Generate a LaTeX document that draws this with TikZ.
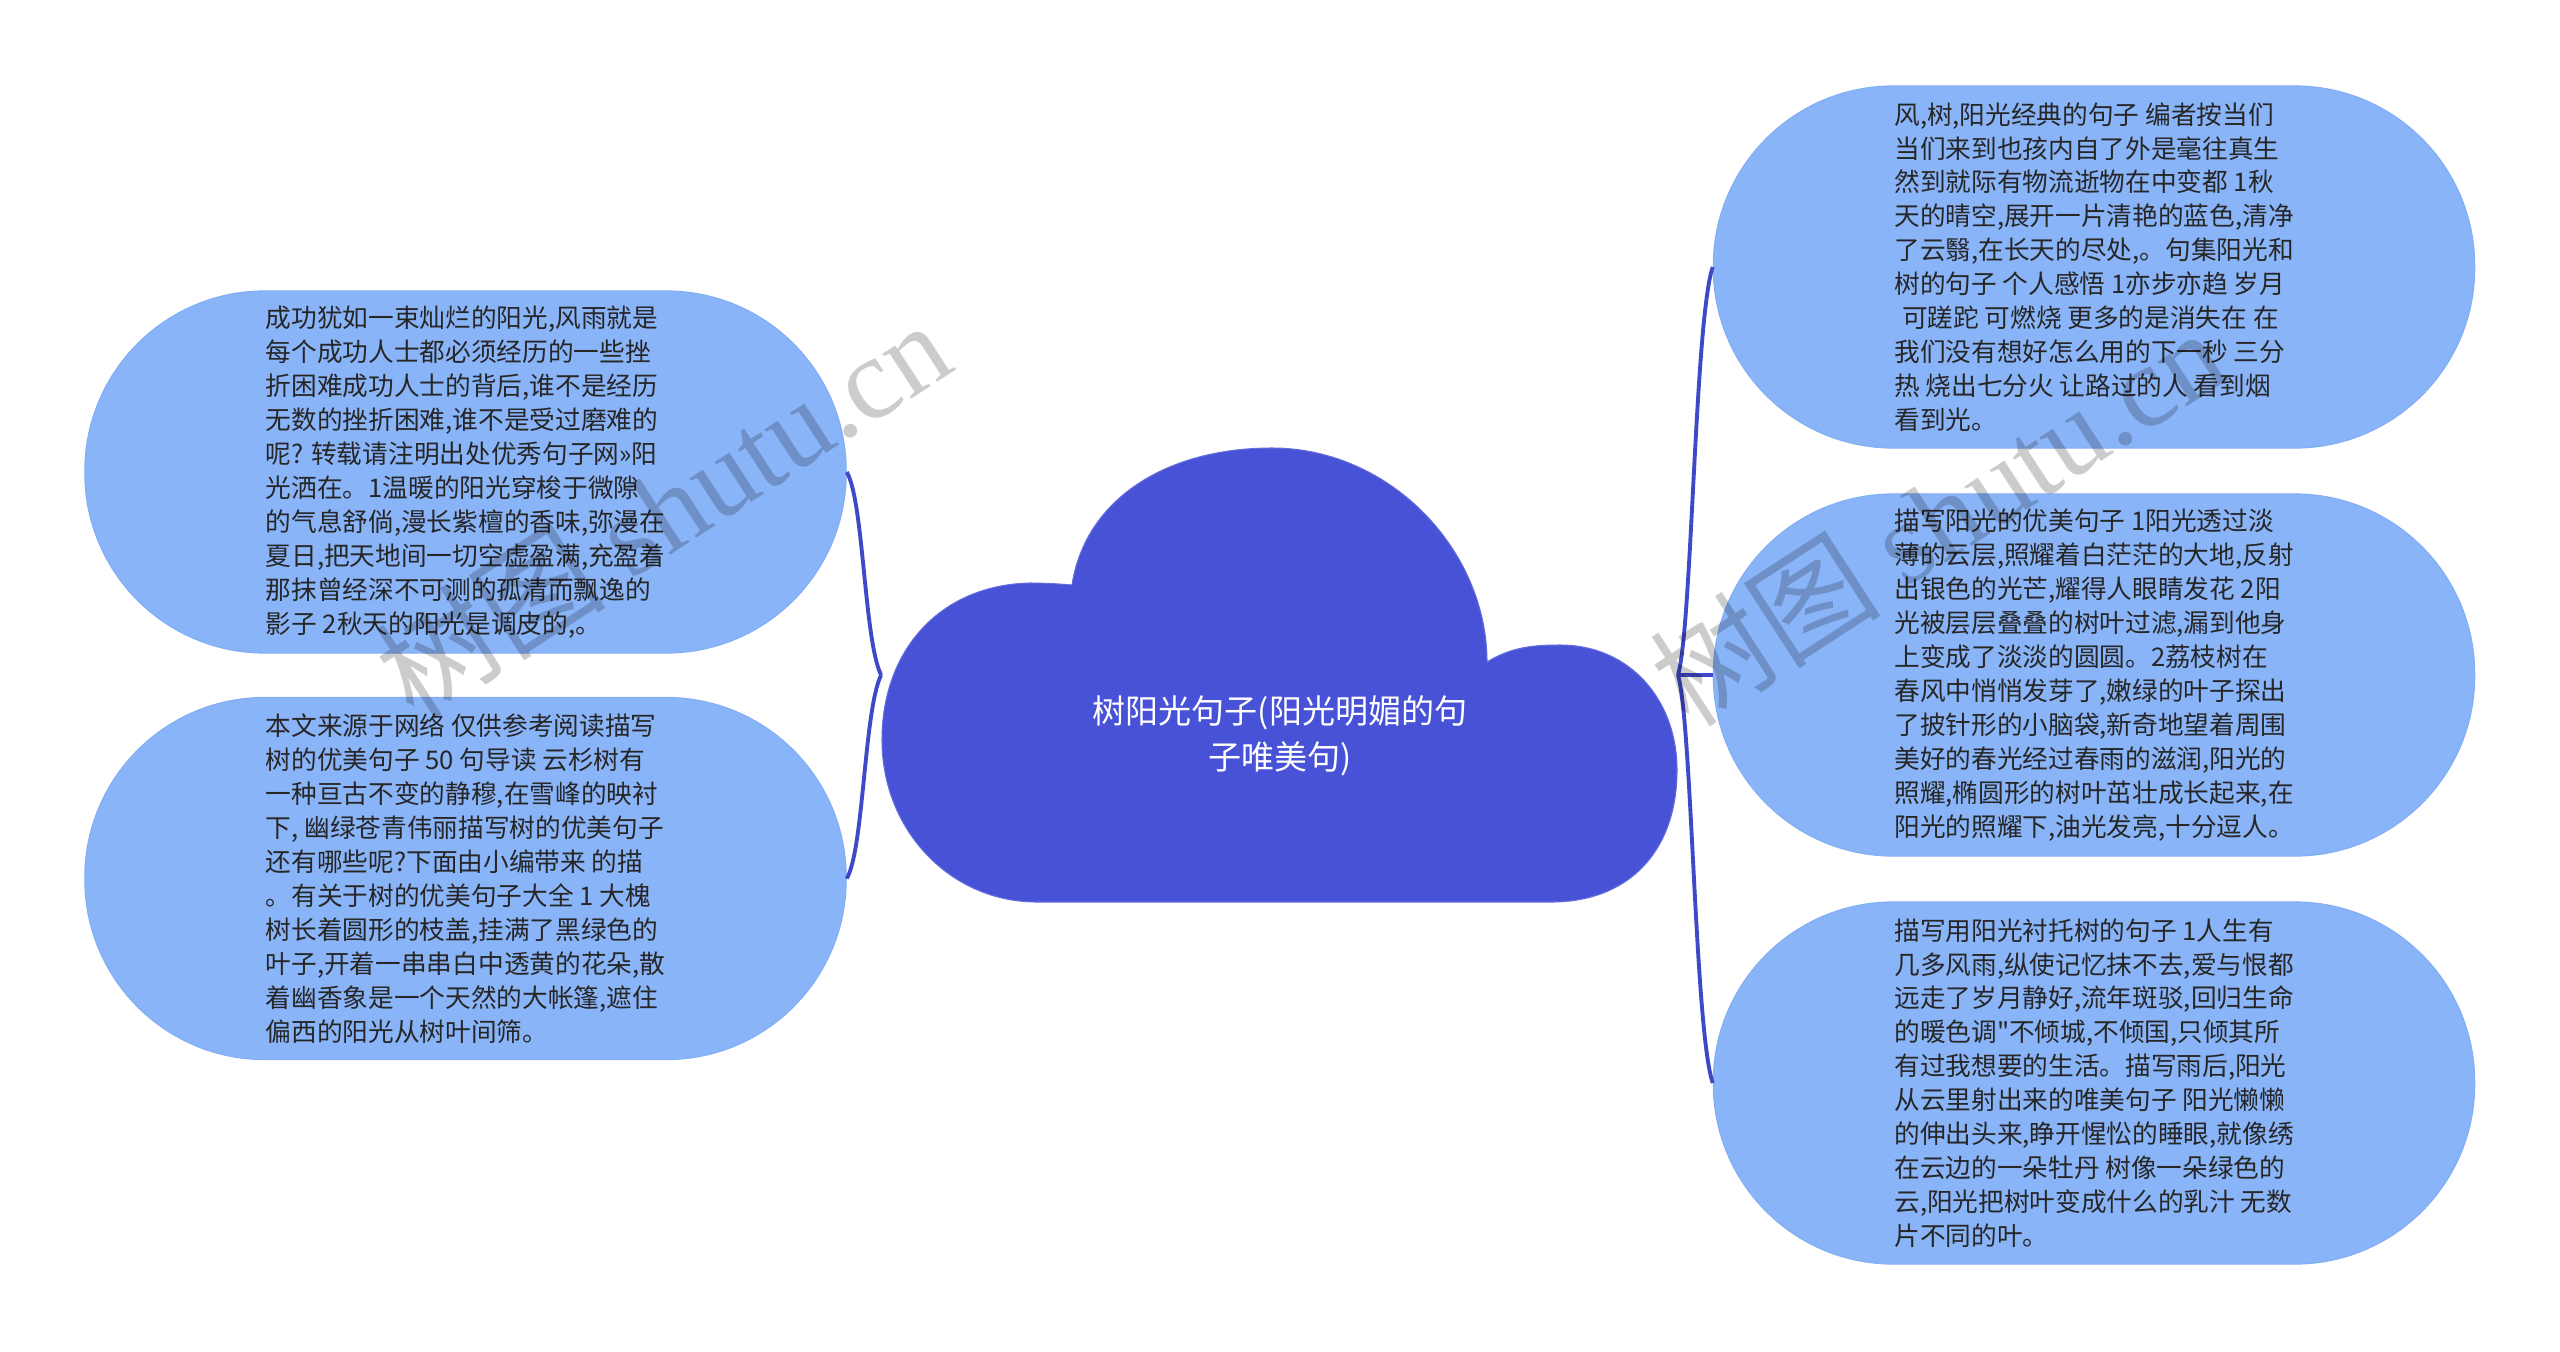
\documentclass[tikz,border=0pt]{standalone}
\usepackage{fontspec}
\setmainfont{Noto Sans CJK SC}[Ligatures=TeXOff]
\newfontfamily\wmlatin{Liberation Serif}
\definecolor{leaf}{HTML}{8AB4F8}
\definecolor{leafedge}{HTML}{82AEF5}
\definecolor{rootc}{HTML}{4752D6}
\definecolor{linkc}{HTML}{3E48C8}
\definecolor{txt}{HTML}{262626}
\begin{document}
\begin{tikzpicture}[x=0.01cm,y=-0.01cm,
  leafbox/.style={rectangle, rounded corners=1.8cm, fill=leaf, draw=leafedge, line width=0.3pt,
    minimum width=7.61cm, minimum height=3.62cm, inner sep=0pt, align=left, text=txt,
    font=\fontsize{7.3pt}{9.65pt}\selectfont},
  link/.style={draw=linkc, line width=1.1pt},
  wmark/.style={text=black, opacity=0.2, rotate=33, inner sep=0pt,
    font=\fontsize{33pt}{33pt}\selectfont},
  roottext/.style={text=white, align=center, inner sep=0pt,
    font=\fontsize{9.4pt}{13.1pt}\selectfont}]
\useasboundingbox (0,0) rectangle (2560,1351);
\clip (0,0) rectangle (2560,1351);
\fill[white] (0,0) rectangle (2560,1351);

% central cloud
\fill[rootc, draw=rootc!85!white, line width=0.3pt]
  (1072,585) .. controls (1085,500) and (1165,448) .. (1272,448)
  .. controls (1390,448) and (1487,550) .. (1487,662)
  .. controls (1510,648) and (1530,645) .. (1560,645)
  .. controls (1630,645) and (1677,700) .. (1677,770)
  .. controls (1677,850) and (1630,902) .. (1551,902)
  -- (1037,902)
  .. controls (950,902) and (882,830) .. (882,740)
  .. controls (882,650) and (940,585) .. (1030,583)
  .. controls (1045,583) and (1060,584) .. (1072,585) -- cycle;
\node[rectangle, minimum width=7.95cm, minimum height=4.52cm, inner sep=0pt] (root) at (1279.5,675) {};
\node[roottext] (rootlabel) at (1280,736) {树阳光句子(阳光明媚的句\\子唯美句)};

% leaves
\node[leafbox] (lt) at (465.5,472) {成功犹如一束灿烂的阳光,风雨就是\\每个成功人士都必须经历的一些挫\\折困难成功人士的背后,谁不是经历\\无数的挫折困难,谁不是受过磨难的\\呢? 转载请注明出处优秀句子网»阳\\光洒在。1温暖的阳光穿梭于微隙\\的气息舒倘,漫长紫檀的香味,弥漫在\\夏日,把天地间一切空虚盈满,充盈着\\那抹曾经深不可测的孤清而飘逸的\\影子 2秋天的阳光是调皮的,。};
\node[leafbox] (lb) at (465.5,878.5) {本文来源于网络 仅供参考阅读描写\\树的优美句子 50 句导读 云杉树有\\一种亘古不变的静穆,在雪峰的映衬\\下, 幽绿苍青伟丽描写树的优美句子\\还有哪些呢?下面由小编带来 的描\\。有关于树的优美句子大全 1 大槐\\树长着圆形的枝盖,挂满了黑绿色的\\叶子,开着一串串白中透黄的花朵,散\\着幽香象是一个天然的大帐篷,遮住\\偏西的阳光从树叶间筛。};
\node[leafbox] (rt) at (2094,267) {风,树,阳光经典的句子 编者按当们\\当们来到也孩内自了外是毫往真生\\然到就际有物流逝物在中变都 1秋\\天的晴空,展开一片清艳的蓝色,清净\\了云翳,在长天的尽处,。句集阳光和\\树的句子 个人感悟 1亦步亦趋 岁月\\\hspace*{0.3em}可蹉跎 可燃烧 更多的是消失在 在\\我们没有想好怎么用的下一秒 三分\\热 烧出七分火 让路过的人 看到烟\\看到光。};
\node[leafbox] (rm) at (2094,675) {描写阳光的优美句子 1阳光透过淡\\薄的云层,照耀着白茫茫的大地,反射\\出银色的光芒,耀得人眼睛发花 2阳\\光被层层叠叠的树叶过滤,漏到他身\\上变成了淡淡的圆圆。2荔枝树在\\春风中悄悄发芽了,嫩绿的叶子探出\\了披针形的小脑袋,新奇地望着周围\\美好的春光经过春雨的滋润,阳光的\\照耀,椭圆形的树叶茁壮成长起来,在\\阳光的照耀下,油光发亮,十分逗人。};
\node[leafbox] (rb) at (2094,1083) {描写用阳光衬托树的句子 1人生有\\几多风雨,纵使记忆抹不去,爱与恨都\\远走了岁月静好,流年斑驳,回归生命\\的暖色调"不倾城,不倾国,只倾其所\\有过我想要的生活。描写雨后,阳光\\从云里射出来的唯美句子 阳光懒懒\\的伸出头来,睁开惺忪的睡眼,就像绣\\在云边的一朵牡丹 树像一朵绿色的\\云,阳光把树叶变成什么的乳汁 无数\\片不同的叶。};

% connectors
\draw[link] (lt.east) .. controls +(17,29) and +(-17,-35) .. (root.west);
\draw[link] (lb.east) .. controls +(17,-29) and +(-17,35) .. (root.west);
\draw[link] (root.east) .. controls +(14,-45) and +(-18,52) .. (rt.west);
\draw[link] (root.east) .. controls +(14,45) and +(-18,-52) .. (rb.west);
\draw[link] (root.east) -- (rm.west);

% watermarks
\node[wmark] (wm1) at (662,508) {树图 {\wmlatin shutu.cn}};
\node[wmark] (wm2) at (1937,516) {树图 {\wmlatin shutu.cn}};
\end{tikzpicture}
\end{document}
